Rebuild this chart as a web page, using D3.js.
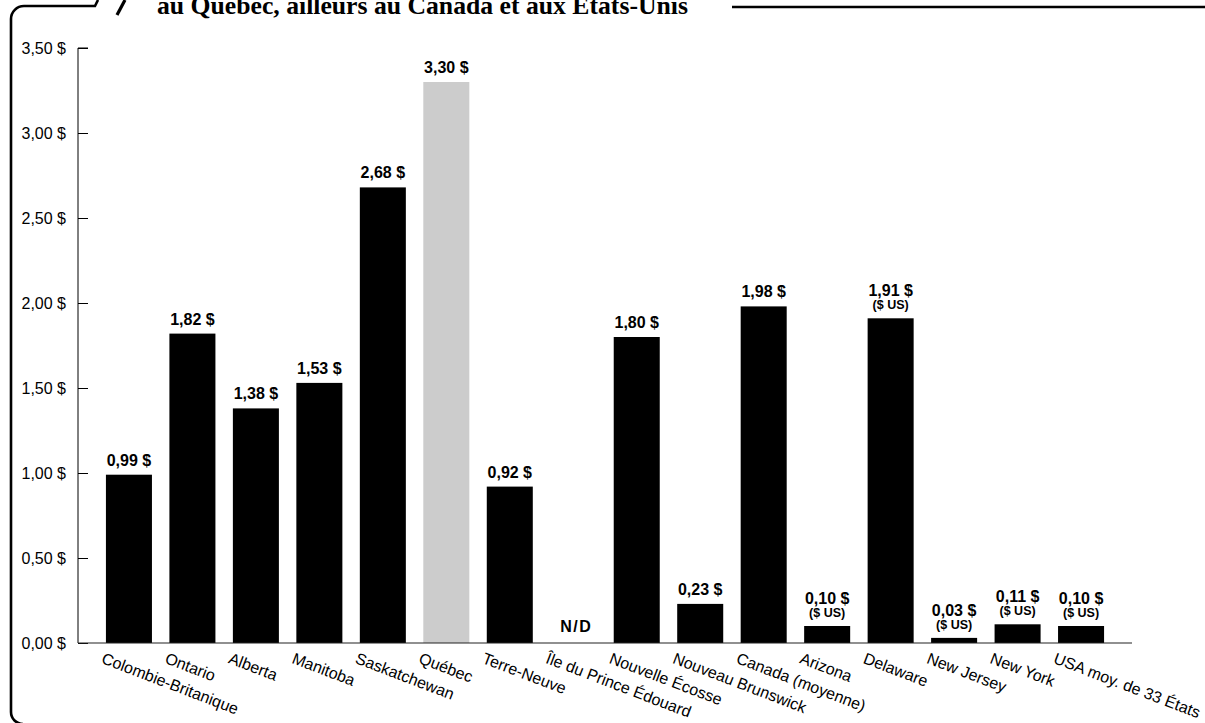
<!DOCTYPE html>
<html>
<head>
<meta charset="utf-8">
<script src="https://cdn.jsdelivr.net/npm/d3@7"></script>
<style>
  html, body { margin: 0; padding: 0; background: #fff; }
  svg { display: block; }
</style>
</head>
<body>
<svg id="chart" width="1205" height="723"></svg>
<script>
// Régions comparées
const categories = [
  "Colombie-Britanique", "Ontario", "Alberta", "Manitoba", "Saskatchewan",
  "Québec", "Terre-Neuve", "Île du Prince Édouard", "Nouvelle Écosse",
  "Nouveau Brunswick", "Canada (moyenne)", "Arizona", "Delaware",
  "New Jersey", "New York", "USA moy. de 33 États"
];
// Montant par région ($); null = donnée non disponible
const values = [0.99, 1.82, 1.38, 1.53, 2.68, 3.30, 0.92, null, 1.80, 0.23, 1.98, 0.10, 1.91, 0.03, 0.11, 0.10];
// Montants exprimés en dollars américains
const usRegions = ["Arizona", "Delaware", "New Jersey", "New York", "USA moy. de 33 États"];
const highlighted = ["Québec"];
const yTicks = [0, 0.5, 1, 1.5, 2, 2.5, 3, 3.5];
const titleText = "au Québec, ailleurs au Canada et aux États-Unis";

const fmt = v => d3.format(".2f")(v).replace(".", ",") + " $";

const svg = d3.select("#chart");
const sans = "'Liberation Sans', Arial, Helvetica, sans-serif";

const x = d3.scaleBand()
  .domain(categories)
  .range([78, 1132])
  .paddingInner(0.275)
  .paddingOuter(0.44);

const y = d3.scaleLinear()
  .domain([0, 3.5])
  .range([643, 48]);

// Cadre décoratif
const frame = svg.append("g").attr("fill", "none").attr("stroke", "#000").attr("stroke-width", 2.6);
frame.append("path")
  .attr("d", "M98,0 L95,6 H24 A13,13 0 0 0 11,19 V712 A12,12 0 0 0 23,724");
frame.append("path").attr("d", "M117,15 L125,0").attr("stroke-width", 3.2);
frame.append("line").attr("x1", 732).attr("x2", 1205).attr("y1", 7).attr("y2", 7);

// Titre (partiellement hors cadre)
const title = svg.append("text")
  .attr("x", 157).attr("y", 14)
  .attr("font-family", "'Liberation Serif', 'Times New Roman', serif")
  .attr("font-weight", "bold")
  .attr("font-size", 20)
  .attr("fill", "#000")
  .text(titleText);
const tw = title.node().getComputedTextLength();
title.attr("font-size", 20 * 531 / tw);

// Axe vertical
const yAxis = svg.append("g")
  .attr("transform", "translate(78,0)")
  .call(d3.axisRight(y).tickValues(yTicks).tickSize(10).tickFormat(() => ""));
yAxis.select(".domain").attr("d", `M10,${y(3.5)}H0V${y(0)}`).attr("stroke", "#000");
yAxis.selectAll(".tick line").attr("stroke", "#000");

svg.append("g").selectAll("text")
  .data(yTicks)
  .join("text")
  .attr("x", 66)
  .attr("y", d => y(d))
  .attr("dy", "0.36em")
  .attr("text-anchor", "end")
  .attr("font-family", sans)
  .attr("font-size", 16)
  .attr("fill", "#000")
  .text(d => fmt(d));

// Barres
const data = categories.map((c, i) => ({ cat: c, v: values[i] }));

svg.append("g").selectAll("rect")
  .data(data.filter(d => d.v !== null))
  .join("rect")
  .attr("x", d => x(d.cat))
  .attr("width", x.bandwidth())
  .attr("y", d => y(d.v))
  .attr("height", d => y(0) - y(d.v))
  .attr("fill", d => highlighted.includes(d.cat) ? "#cccccc" : "#000");

// Axe horizontal
svg.append("line")
  .attr("x1", 78).attr("x2", 1132)
  .attr("y1", y(0)).attr("y2", y(0))
  .attr("stroke", "#222").attr("stroke-width", 1.2);

// Étiquettes de valeur
const labels = svg.append("g")
  .attr("font-family", sans)
  .attr("font-weight", "bold")
  .attr("text-anchor", "middle")
  .attr("fill", "#000");

data.forEach(d => {
  const cx = x(d.cat) + x.bandwidth() / 2;
  if (d.v === null) {
    labels.append("text")
      .attr("x", cx + 3).attr("y", y(0) - 11)
      .attr("font-size", 16)
      .attr("letter-spacing", 1.5)
      .text("N/D");
    return;
  }
  const isUS = usRegions.includes(d.cat);
  labels.append("text")
    .attr("x", cx)
    .attr("y", y(d.v) - (isUS ? 22 : 9))
    .attr("font-size", 16)
    .text(fmt(d.v));
  if (isUS) {
    labels.append("text")
      .attr("x", cx)
      .attr("y", y(d.v) - 9)
      .attr("font-size", 12.5)
      .text("($ US)");
  }
});

// Étiquettes des catégories
svg.append("g").selectAll("text")
  .data(categories)
  .join("text")
  .attr("transform", d => `translate(${x(d) - 1},651) rotate(21)`)
  .attr("dy", "0.78em")
  .attr("font-family", sans)
  .attr("font-size", 16)
  .attr("fill", "#000")
  .text(d => d);
</script>
</body>
</html>
